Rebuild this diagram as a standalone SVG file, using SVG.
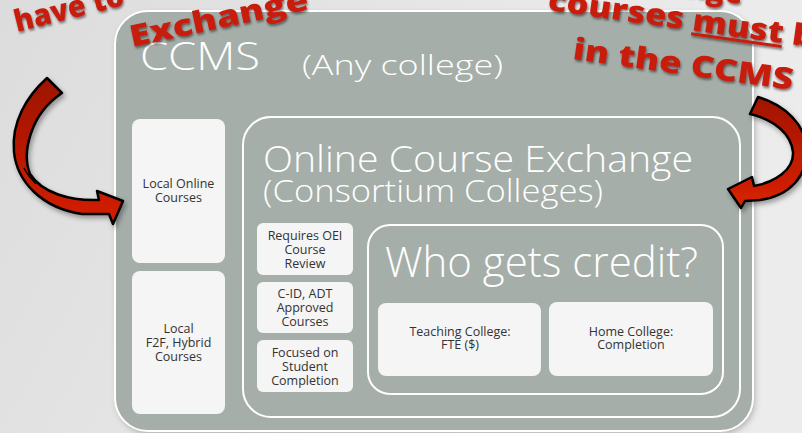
<svg xmlns="http://www.w3.org/2000/svg" width="802" height="433" viewBox="0 0 802 433">
<defs>
<linearGradient id="bg" x1="0" y1="0" x2="1" y2="0.3">
<stop offset="0" stop-color="#dcdcdc"/>
<stop offset="0.6" stop-color="#e8e8e8"/>
<stop offset="1" stop-color="#ececec"/>
</linearGradient>
<linearGradient id="arrL" x1="0" y1="0" x2="0" y2="1">
<stop offset="0" stop-color="#9c1200"/>
<stop offset="0.5" stop-color="#b81800"/>
<stop offset="1" stop-color="#d42000"/>
</linearGradient>
<linearGradient id="arrR" x1="0" y1="0" x2="0" y2="1">
<stop offset="0" stop-color="#a01300"/>
<stop offset="0.6" stop-color="#c41c00"/>
<stop offset="1" stop-color="#d82200"/>
</linearGradient>
<filter id="boxShadow" x="-10%" y="-10%" width="120%" height="120%">
<feDropShadow dx="2" dy="3" stdDeviation="3" flood-color="#000" flood-opacity="0.25"/>
</filter>
<filter id="txtShadow" x="-10%" y="-30%" width="120%" height="160%">
<feDropShadow dx="1" dy="2" stdDeviation="1" flood-color="#2a2a2a" flood-opacity="0.6"/>
</filter>
<filter id="arrShadow" x="-30%" y="-30%" width="160%" height="160%">
<feDropShadow dx="2" dy="3" stdDeviation="2.5" flood-color="#000" flood-opacity="0.35"/>
</filter>
<style>
.frame{fill:none;stroke:#ffffff;stroke-width:2}
.card{fill:#f5f5f5}
.big{font-family:"Open Sans","DejaVu Sans",sans-serif;font-weight:300;fill:#ffffff}
.lbl{font-family:"Open Sans","DejaVu Sans",sans-serif;font-size:12.5px;fill:#333333;text-anchor:middle}
.red{font-family:"Open Sans","DejaVu Sans",sans-serif;font-weight:800;font-size:30px;fill:#c81c08}
.arrow{stroke:#000000;stroke-width:2.5;stroke-linejoin:round}
</style>
</defs>

<rect x="0" y="0" width="802" height="433" fill="url(#bg)"/>

<g id="ccms">
<rect x="115" y="11" width="638" height="420" rx="33" fill="#a5aea8" filter="url(#boxShadow)"/>
<rect x="115" y="11" width="638" height="420" rx="33" class="frame"/>
<text class="big" x="140" y="70" font-size="38" textLength="120" lengthAdjust="spacingAndGlyphs">CCMS</text>
<text class="big" x="302" y="75" font-size="28" textLength="201" lengthAdjust="spacingAndGlyphs">(Any college)</text>
</g>

<g id="local-online">
<rect x="132" y="119" width="93" height="144" rx="8" class="card"/>
<text class="lbl" x="178.5" y="188">Local Online</text>
<text class="lbl" x="178.5" y="202">Courses</text>
</g>

<g id="local-f2f">
<rect x="132" y="271" width="93" height="143" rx="8" class="card"/>
<text class="lbl" x="178.5" y="333">Local</text>
<text class="lbl" x="178.5" y="347">F2F, Hybrid</text>
<text class="lbl" x="178.5" y="361">Courses</text>
</g>

<g id="oce">
<rect x="243" y="117" width="497" height="300" rx="28" class="frame"/>
<text class="big" x="263" y="172" font-size="36" textLength="430" lengthAdjust="spacingAndGlyphs">Online Course Exchange</text>
<text class="big" x="263" y="202" font-size="32" textLength="340" lengthAdjust="spacingAndGlyphs">(Consortium Colleges)</text>
</g>

<g id="oei-review">
<rect x="257" y="223" width="96" height="52" rx="6" class="card"/>
<text class="lbl" x="305" y="240">Requires OEI</text>
<text class="lbl" x="305" y="254">Course</text>
<text class="lbl" x="305" y="268">Review</text>
</g>

<g id="cid-adt">
<rect x="257" y="282" width="96" height="51" rx="6" class="card"/>
<text class="lbl" x="305" y="298">C-ID, ADT</text>
<text class="lbl" x="305" y="312">Approved</text>
<text class="lbl" x="305" y="326">Courses</text>
</g>

<g id="completion-focus">
<rect x="257" y="340" width="96" height="52" rx="6" class="card"/>
<text class="lbl" x="305" y="357">Focused on</text>
<text class="lbl" x="305" y="371">Student</text>
<text class="lbl" x="305" y="385">Completion</text>
</g>

<g id="credit">
<rect x="368" y="225" width="355" height="169" rx="22" class="frame"/>
<text class="big" x="385" y="277" font-size="42" textLength="313" lengthAdjust="spacingAndGlyphs">Who gets credit?</text>
</g>

<g id="teaching-college">
<rect x="378" y="303" width="163" height="73" rx="8" class="card"/>
<text class="lbl" x="460" y="336">Teaching College:</text>
<text class="lbl" x="460" y="349">FTE ($)</text>
</g>

<g id="home-college">
<rect x="549" y="302" width="164" height="74" rx="8" class="card"/>
<text class="lbl" x="631" y="336">Home College:</text>
<text class="lbl" x="631" y="349">Completion</text>
</g>

<g id="connectors">
<path class="arrow" fill="url(#arrL)" filter="url(#arrShadow)" d="M47 78 C27 96 11 122 14 152 C17 182 42 208 82 214 L109 214 L113 224 L123 201 L97 191 L99 200 C70 201 42 193 30 174 C22 154 29 115 62 93 Z"/>
<path d="M24 168 C28 176 32 180 36 184" fill="none" stroke="#000" stroke-width="1.5"/>
<path class="arrow" fill="url(#arrR)" filter="url(#arrShadow)" d="M758 97 C785 105 806 125 807 150 C807 176 790 196 760 200 L745 201 L741 208 L728 189 L752 177 L754 186 C775 182 794 170 793 152 C791 134 775 120 750 114 Z"/>
</g>

<g id="notes" filter="url(#txtShadow)">
<text class="red" transform="translate(17 32) rotate(-14)" textLength="112" lengthAdjust="spacingAndGlyphs">have to</text>
<text class="red" transform="translate(132 47) rotate(-12)" textLength="182" lengthAdjust="spacingAndGlyphs">Exchange</text>
<text class="red" text-anchor="end" transform="translate(742 4) rotate(8)">Exchange</text>
<text class="red" font-size="32" transform="translate(547 10) rotate(8)" textLength="290" lengthAdjust="spacingAndGlyphs">courses <tspan text-decoration="underline">must</tspan> be</text>
<text class="red" font-size="32" transform="translate(572 59) rotate(8)" textLength="222" lengthAdjust="spacingAndGlyphs">in the CCMS</text>
</g>
</svg>
